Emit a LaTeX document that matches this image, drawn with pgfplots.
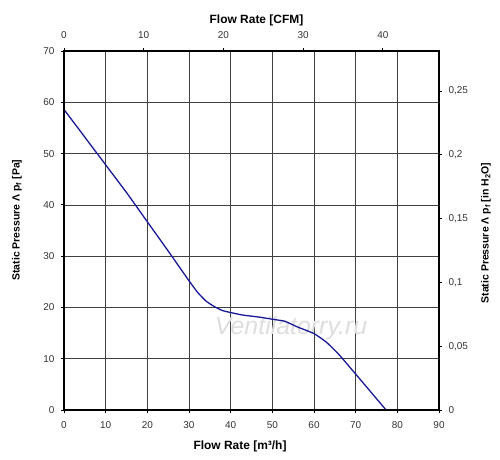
\documentclass[border=0pt]{standalone}
\usepackage{pgfplots}
\pgfplotsset{compat=1.18}
\usepackage{fontspec}
\setmainfont{Liberation Sans}
\definecolor{curve}{RGB}{25,25,150}
\begin{document}
\begin{tikzpicture}
\useasboundingbox (-64bp,-50bp) rectangle (436bp,410bp);
\begin{axis}[
  at={(0,0)}, anchor=south west,
  scale only axis, width=375bp, height=359bp,
  xmin=0, xmax=90, ymin=0, ymax=70,
  xtick={0,10,...,90}, ytick={0,10,...,70},
  xtick pos=lower, ytick pos=lower,
  tick align=outside, major tick length=3bp,
  tick style={black, line width=0.8pt},
  grid=major,
  major grid style={black!75, line width=0.7pt},
  axis line style={black, line width=1.4pt},
  /pgf/number format/assume math mode=true,
  ticklabel style={font=\fontsize{10}{12}\selectfont, text=black!80},
  xticklabel style={yshift=-5bp},
  yticklabel style={xshift=-3bp},
]
\node[font=\itshape\fontsize{25}{25}\selectfont, text=black!13] at (axis cs:54.5,16.0) {Ventilatorry.ru};
\addplot[curve, line width=1.3pt, smooth, tension=0.3] coordinates {
(0,58.6) (5,53.2) (10,47.8) (15,42.4) (20,36.7) (25,31.0) (30,25.2)
(32,23.0) (34,21.3) (36,20.2) (38,19.4) (40,19.0) (43,18.5) (47,18.1)
(50,17.7) (53,17.3) (56,16.2) (60,14.9) (63,13.2) (66,10.8) (70,7.0) (77.3,0)
};
\end{axis}
\begin{axis}[
  at={(0,0)}, anchor=south west,
  scale only axis, width=375bp, height=359bp,
  xmin=0, xmax=47.05, ymin=0, ymax=0.2813,
  xtick={0,10,20,30,40},
  ytick={0,0.05,0.1,0.15,0.2,0.25},
  yticklabels={0,{0,05},{0,1},{0,15},{0,2},{0,25}},
  xtick pos=upper, ytick pos=upper,
  tick align=outside, major tick length=3bp,
  tick style={black, line width=0.8pt},
  axis line style={black, line width=1.4pt},
  /pgf/number format/assume math mode=true,
  ticklabel style={font=\fontsize{10}{12}\selectfont, text=black!80},
  xticklabel style={yshift=6bp},
  yticklabel style={xshift=3bp},
]
\addplot[draw=none] coordinates {(0,0)};
\end{axis}
\node[font=\bfseries\fontsize{12}{14}\selectfont, anchor=base] at (176bp,-39.3bp) {Flow Rate [m³/h]};
\node[font=\bfseries\fontsize{12}{14}\selectfont, anchor=base] at (192.5bp,386bp) {Flow Rate [CFM]};
\node[font=\bfseries\fontsize{10.5}{12}\selectfont, rotate=90] at (-47bp,190bp) {Static Pressure Λ p\textsubscript{f} [Pa]};
\node[font=\bfseries\fontsize{10.5}{12}\selectfont, rotate=90] at (422bp,177bp) {Static Pressure Λ p\textsubscript{f} [in H\textsubscript{2}O]};
\end{tikzpicture}
\end{document}
